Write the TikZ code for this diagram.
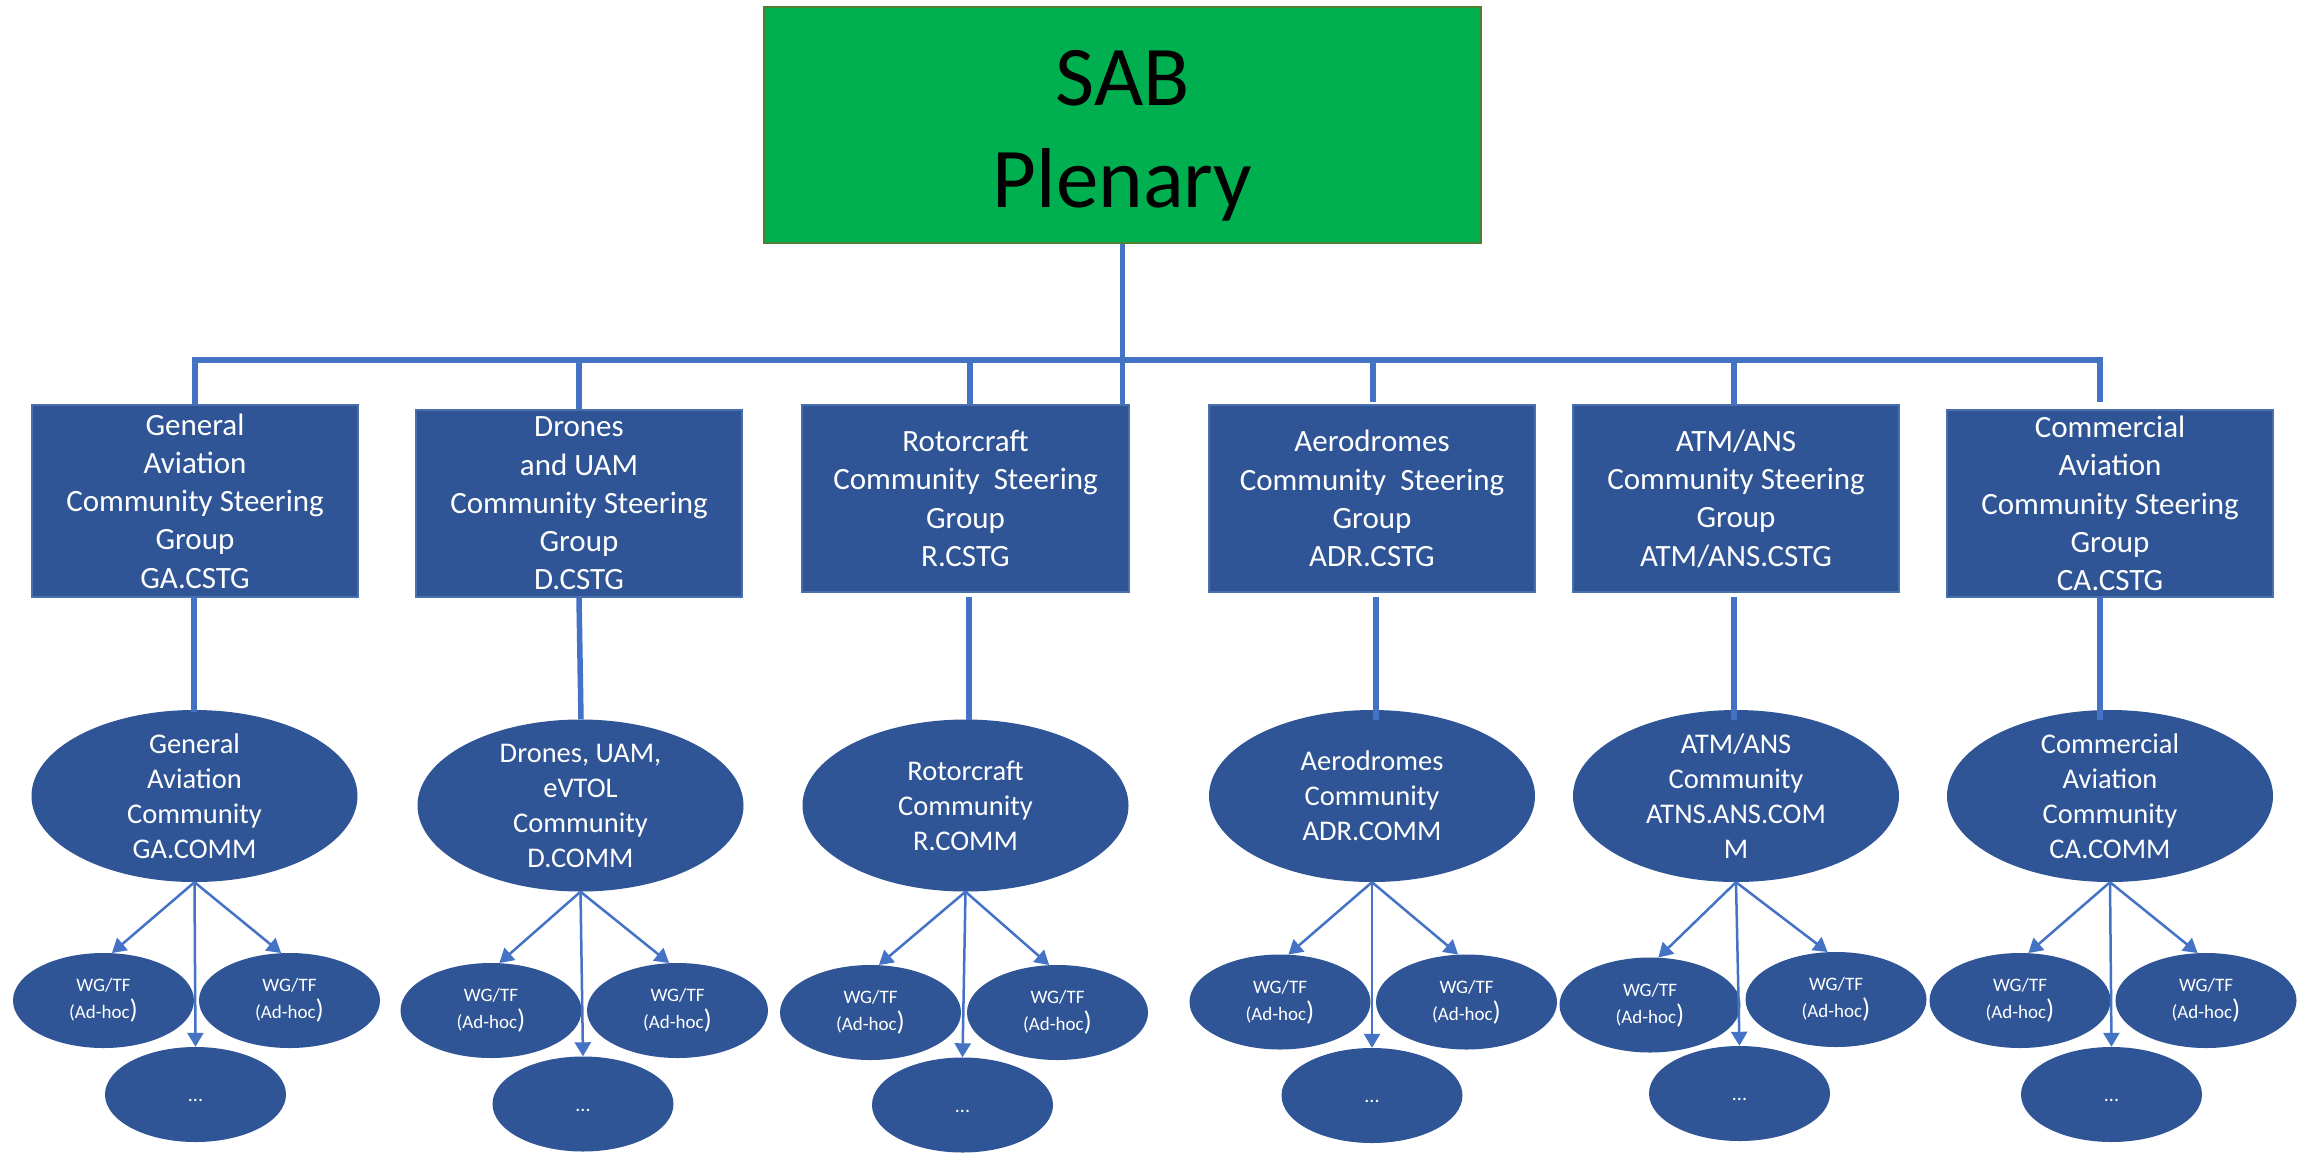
\documentclass[tikz,border=0pt]{standalone}
\usepackage{fontspec}
\setmainfont{Carlito}
\usetikzlibrary{shapes.geometric,arrows.meta,calc}
\definecolor{boxblue}{HTML}{2F5597}
\definecolor{boxedge}{HTML}{4A6FAE}
\definecolor{lineblue}{HTML}{4472C4}
\definecolor{sabgreen}{HTML}{00B050}
\definecolor{sabedge}{HTML}{507E32}
\newcommand\wgtext{WG/TF\\(Ad-hoc{\fontsize{27}{27}\selectfont)}}
\tikzset{
  conn/.style={draw=lineblue, line width=5.5pt},
  arr/.style={draw=lineblue, line width=2.5pt, -{Triangle[length=14pt,width=16pt]}},
  sabbox/.style={rectangle, fill=sabgreen, draw=sabedge, line width=2pt, minimum width=717pt, minimum height=236pt, inner sep=0pt},
  sabtxt/.style={text=black, align=center, inner sep=0pt, font=\fontsize{85}{102}\selectfont},
  cstg/.style={rectangle, fill=boxblue, draw=boxedge, line width=1.2pt, minimum width=326pt, minimum height=187pt, inner sep=0pt, text=white, align=center, font=\fontsize{31}{38.3}\selectfont},
  comm/.style={ellipse, fill=boxblue, minimum width=326pt, minimum height=172pt, inner sep=0pt},
  commtxt/.style={text=white, align=center, inner sep=0pt, font=\fontsize{28.5}{35}\selectfont},
  wg/.style={ellipse, fill=boxblue, minimum width=181pt, minimum height=95pt, inner sep=0pt},
  wgtxt/.style={text=white, align=center, inner sep=0pt, font=\fontsize{19}{27}\selectfont},
  dottxt/.style={text=white, inner sep=0pt, anchor=base, font=\fontsize{20}{24}\selectfont},
}
\begin{document}
\begin{tikzpicture}[x=1pt,y=-1pt]
\useasboundingbox (0,0) rectangle (2305,1152);
\fill[white] (0,0) rectangle (2305,1152);

% top box
\node[sabbox] (sab) at (1122.5,125) {};
\node[sabtxt] (sabt) at ($(sab)+(0,10.5)$) {SAB\\Plenary};

% steering group boxes
\node[cstg, minimum height=192pt] (ga) at (195,501) {General\\Aviation\\Community Steering\\Group\\GA.CSTG};
\node[cstg] (dr) at (579,503.5) {Drones\\and UAM\\Community Steering\\Group\\D.CSTG};
\node[cstg, minimum width=327pt] (ro) at (965.5,498.5) {Rotorcraft\\Community\ \ Steering\\Group\\R.CSTG};
\node[cstg] (ad) at (1372,498.5) {Aerodromes\\Community\ \ Steering\\Group\\ADR.CSTG};
\node[cstg] (at) at (1736,498.5) {ATM/ANS\\Community Steering\\Group\\ATM/ANS.CSTG};
\node[cstg] (ca) at (2110,503.5) {Commercial\\Aviation\\Community Steering\\Group\\CA.CSTG};

% connectors from plenary
\coordinate (bus) at (0,360);
\draw[conn] (sab.south) -- (sab.south |- ro.north);
\draw[conn, line cap=rect] (ga.north |- bus) -- ([xshift=-10pt]ca.north |- bus);
\draw[conn] (ga.north |- bus) -- (ga.north);
\draw[conn] (dr.north |- bus) -- (dr.north);
\draw[conn] ([xshift=4.5pt]ro.north |- bus) -- ([xshift=4.5pt]ro.north);
\draw[conn] ([xshift=1pt]ad.north |- bus) -- ([xshift=1pt,yshift=2pt]ad.north);
\draw[conn] ([xshift=-2pt]at.north |- bus) -- ([xshift=-2pt]at.north);
\draw[conn] ([xshift=-10pt]ca.north |- bus) -- ([xshift=-10pt,yshift=7pt]ca.north);

% community ellipses
\node[comm] (gac) at (194.5,796) {};
\node[comm] (drc) at (580.5,805.5) {};
\node[comm] (roc) at (965.5,805.5) {};
\node[comm] (adc) at (1372,796) {};
\node[comm] (atc) at (1736,796) {};
\node[comm] (cac) at (2110,796) {};

% box to community lines
\draw[conn, shorten >=-2pt] ([xshift=-1pt]ga.south) -- ([xshift=-1pt]ga.south |- gac.north);
\draw[conn] (dr.south) -- ([xshift=2pt]dr.south |- drc.north);
\draw[conn, shorten >=-1pt] ([xshift=3.5pt,yshift=-4pt]ro.south) -- ([xshift=3.5pt]ro.south |- roc.north);
\draw[conn, shorten >=-10pt] ([xshift=4pt,yshift=-4pt]ad.south) -- ([xshift=4pt]ad.south |- adc.north);
\draw[conn, shorten >=-10pt] ([xshift=-2pt,yshift=-4pt]at.south) -- ([xshift=-2pt]at.south |- atc.north);
\draw[conn, shorten >=-10pt] ([xshift=-10pt]ca.south) -- ([xshift=-10pt]ca.south |- cac.north);

\node[commtxt] at (gac) {General\\Aviation\\Community\\GA.COMM};
\node[commtxt] at (drc) {Drones, UAM,\\eVTOL\\Community\\D.COMM};
\node[commtxt] at (roc) {Rotorcraft\\Community\\R.COMM};
\node[commtxt] at (adc) {Aerodromes\\Community\\ADR.COMM};
\node[commtxt] at (atc) {ATM/ANS\\Community\\ATNS.ANS.COM\\M};
\node[commtxt] at (cac) {Commercial\\Aviation\\Community\\CA.COMM};

% working groups
\node[wg] (gal) at (103.5,1000.5) {};
\node[wg] (gar) at (289.5,1000.5) {};
\node[wg] (gad) at (195.5,1094.5) {};
\node[wg] (drl) at (491,1010.5) {};
\node[wg] (drr) at (677.5,1010.5) {};
\node[wg] (drd) at (583,1104) {};
\node[wg] (rol) at (870.5,1012.5) {};
\node[wg] (ror) at (1057.5,1012.5) {};
\node[wg] (rod) at (962.5,1105) {};
\node[wg] (adl) at (1280,1002) {};
\node[wg] (adr) at (1466.5,1002) {};
\node[wg] (add) at (1372,1095.5) {};
\node[wg] (atl) at (1650,1005) {};
\node[wg] (atr) at (1836,999.5) {};
\node[wg] (atd) at (1739.5,1093.5) {};
\node[wg] (cal) at (2020,1000.5) {};
\node[wg] (car) at (2206,1000.5) {};
\node[wg] (cad) at (2111.5,1094.5) {};

\foreach \n in {gal,gar,drl,drr,rol,ror,adl,adr,atl,atr,cal,car}
  \node[wgtxt] at (\n) {\wgtext};
\foreach \n in {gad,drd,rod,add,atd,cad}
  \node[dottxt] at ($(\n)+(0,7)$) {...};

% arrows
\foreach \c/\l/\r/\d in {gac/gal/gar/gad, drc/drl/drr/drd, roc/rol/ror/rod, adc/adl/adr/add, atc/atl/atr/atd, cac/cal/car/cad}{
  \draw[arr] (\c.south) -- (\l.80);
  \draw[arr] (\c.south) -- (\r.100);
  \draw[arr] (\c.south) -- (\d.north);
}
\end{tikzpicture}
\end{document}
